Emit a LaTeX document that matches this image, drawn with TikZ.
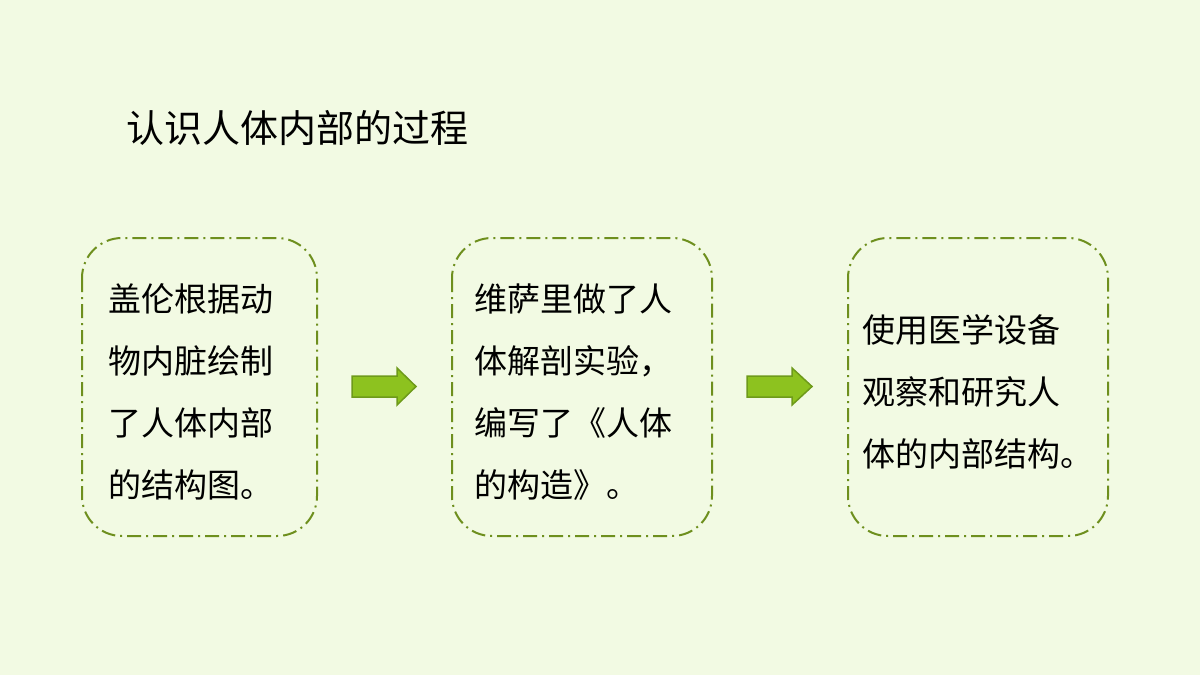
\documentclass[tikz,border=0pt]{standalone}
\usepackage{fontspec}
\setmainfont{Noto Sans CJK SC}
\begin{document}
\begin{tikzpicture}[x=1pt,y=-1pt,
  box/.style={draw=olivegr,line width=2pt,rounded corners=40pt,dash pattern=on 14pt off 5pt on 2pt off 5pt},
  txt/.style={anchor=west,font=\fontsize{33}{62}\selectfont,align=left,inner sep=0pt},
  arr/.style={fill=arrfill,draw=arrdraw,line width=1.5pt}]
\definecolor{olivegr}{HTML}{6E8F1E}
\definecolor{arrfill}{HTML}{8DC21F}
\definecolor{arrdraw}{HTML}{6E9A1A}
\definecolor{bg}{HTML}{F2FAE3}
\fill[bg] (0,0) rectangle (1200,675);
\useasboundingbox (0,0) rectangle (1200,675);
\node[anchor=west,inner sep=0pt,font=\fontsize{38}{40}\selectfont] (title) at (126,128) {认识人体内部的过程};
\draw[box] (82,238) rectangle (317,536);
\draw[box] (452,238) rectangle (712,536);
\draw[box] (848,238) rectangle (1108,536);
\node[txt] (t1) at (108,392) {盖伦根据动\\物内脏绘制\\了人体内部\\的结构图。};
\node[txt] (t2) at (474,392) {维萨里做了人\\体解剖实验，\\编写了《人体\\的构造》。};
\node[txt] (t3) at (862,392) {使用医学设备\\观察和研究人\\体的内部结构。};
\draw[arr] (352,376) -- (397,376) -- (397,368) -- (416,386.5) -- (397,405) -- (397,397) -- (352,397) -- cycle;
\draw[arr] (747,376) -- (792,376) -- (792,368) -- (812,386.5) -- (792,405) -- (792,397) -- (747,397) -- cycle;
\end{tikzpicture}
\end{document}
